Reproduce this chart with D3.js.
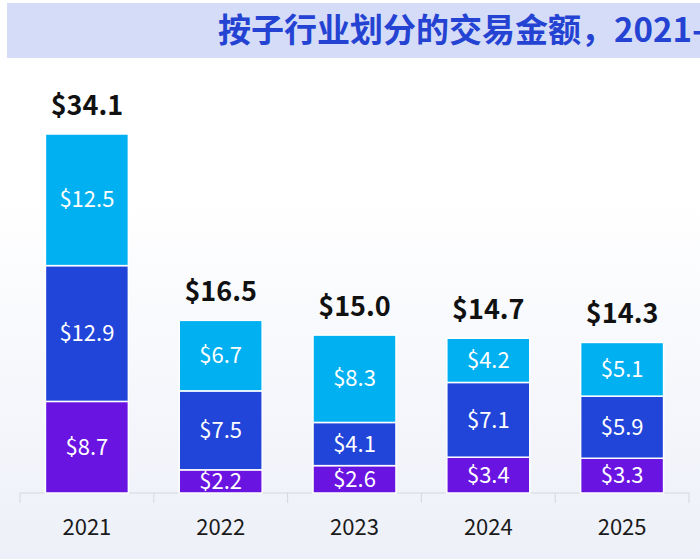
<!DOCTYPE html>
<html>
<head>
<meta charset="utf-8">
<script src="https://cdn.jsdelivr.net/npm/d3@7"></script>
<style>
  html, body { margin: 0; padding: 0; background: #fff; }
  svg { display: block; font-family: "Noto Sans CJK SC", "Noto Sans", sans-serif; }
</style>
</head>
<body>
<script>
// data
const years = ['2021', '2022', '2023', '2024', '2025'];
const purpleVals = [8.7, 2.2, 2.6, 3.4, 3.3];
const blueVals = [12.9, 7.5, 4.1, 7.1, 5.9];
const cyanVals = [12.5, 6.7, 8.3, 4.2, 5.1];
const totals = [34.1, 16.5, 15.0, 14.7, 14.3];
const seriesKeys = ['purple', 'blue', 'cyan'];
const title = '按子行业划分的交易金额，2021-2025年';

(() => {
    const W = 700, H = 559;
    const colors = {purple: '#6a14e2', blue: '#2145d9', cyan: '#00b0f0'};

    const rows = years.map((y, i) => ({
        year: y, purple: purpleVals[i], blue: blueVals[i], cyan: cyanVals[i], total: totals[i]
    }));

    const svg = d3.select('body').append('svg')
        .attr('width', W)
        .attr('height', H);

    const defs = svg.append('defs');
    const grad = defs.append('linearGradient')
        .attr('id', 'bg')
        .attr('x1', 0).attr('y1', 0).attr('x2', 0).attr('y2', 1);
    grad.append('stop').attr('offset', '0%').attr('stop-color', '#ffffff');
    grad.append('stop').attr('offset', '35%').attr('stop-color', '#ffffff');
    grad.append('stop').attr('offset', '100%').attr('stop-color', '#edf0f8');

    svg.append('rect')
        .attr('width', W).attr('height', H)
        .attr('fill', 'url(#bg)');

    // title banner (title runs past the right edge, as in the source)
    svg.append('rect')
        .attr('x', 7).attr('y', 3)
        .attr('width', W - 7).attr('height', 55)
        .attr('fill', '#d5dcf7');

    svg.append('text')
        .attr('x', 218).attr('y', 42)
        .attr('fill', '#2443d3')
        .attr('font-size', 33)
        .attr('font-weight', 700)
        .text(title);

    const baseY = 493;

    const x = d3.scaleBand()
        .domain(years)
        .range([20, 689])
        .paddingInner(0.38)
        .paddingOuter(0.19);

    const y = d3.scaleLinear()
        .domain([0, d3.max(totals)])
        .range([baseY, 134]);

    const layers = d3.stack().keys(seriesKeys)(rows);

    // axis line and boundary ticks
    const axis = svg.append('g').attr('class', 'axis');
    axis.append('line')
        .attr('x1', x.range()[0]).attr('x2', x.range()[1])
        .attr('y1', baseY).attr('y2', baseY)
        .attr('stroke', '#d3d7df').attr('stroke-width', 1);
    d3.range(years.length + 1).forEach(i => {
        const tx = x.range()[0] + i * x.step();
        axis.append('line')
            .attr('x1', tx).attr('x2', tx)
            .attr('y1', baseY).attr('y2', baseY + 10)
            .attr('stroke', '#d3d7df').attr('stroke-width', 1);
    });

    const bars = svg.append('g').attr('class', 'bars');
    layers.forEach(layer => {
        const g = bars.append('g');
        g.selectAll('rect')
            .data(layer)
            .enter().append('rect')
            .attr('x', d => x(d.data.year))
            .attr('y', d => y(d[1]))
            .attr('width', x.bandwidth())
            .attr('height', d => y(d[0]) - y(d[1]))
            .attr('fill', colors[layer.key])
            .attr('stroke', '#fff')
            .attr('stroke-width', 1.5);

        g.selectAll('text')
            .data(layer)
            .enter().append('text')
            .attr('x', d => x(d.data.year) + x.bandwidth() / 2)
            .attr('y', d => (y(d[0]) + y(d[1])) / 2)
            .attr('dy', '0.35em')
            .attr('text-anchor', 'middle')
            .attr('fill', '#fff')
            .attr('font-size', 22)
            .text(d => '$' + d3.format('.1f')(d.data[layer.key]));
    });

    // totals
    svg.append('g').selectAll('text')
        .data(rows)
        .enter().append('text')
        .attr('x', d => x(d.year) + x.bandwidth() / 2)
        .attr('y', d => y(d3.sum(seriesKeys, k => d[k])) - 19)
        .attr('text-anchor', 'middle')
        .attr('fill', '#111')
        .attr('font-size', 27)
        .attr('font-weight', 700)
        .text(d => '$' + d3.format('.1f')(d.total));

    // year labels
    svg.append('g').selectAll('text')
        .data(years)
        .enter().append('text')
        .attr('x', d => x(d) + x.bandwidth() / 2)
        .attr('y', 535)
        .attr('text-anchor', 'middle')
        .attr('fill', '#1a1a1a')
        .attr('font-size', 22)
        .text(d => d);
})();
</script>
</body>
</html>
